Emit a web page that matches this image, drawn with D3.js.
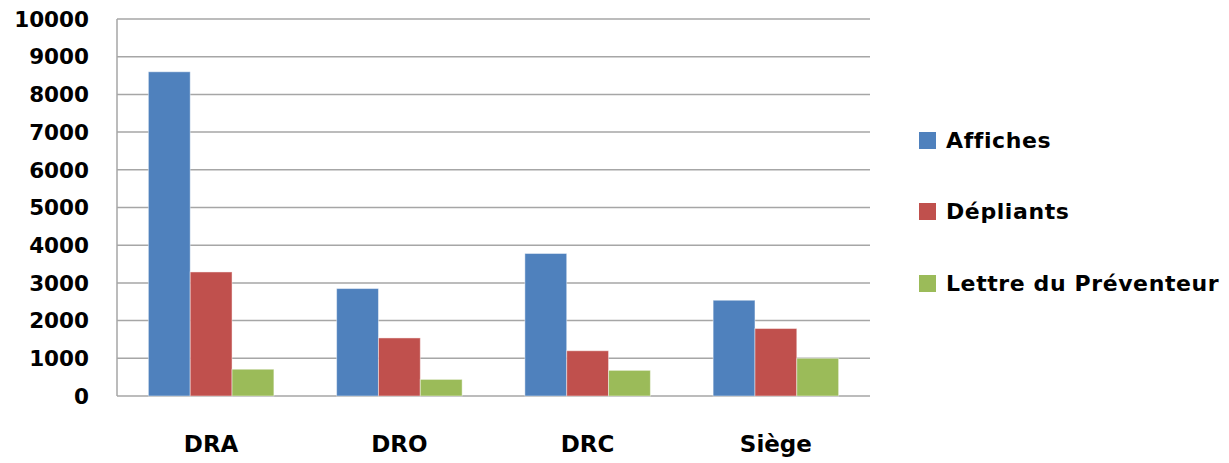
<!DOCTYPE html>
<html>
<head>
<meta charset="utf-8">
<script src="https://cdn.jsdelivr.net/npm/d3@7"></script>
<style>
  body { margin: 0; background: #fff; }
  text { font-family: "DejaVu Sans", Verdana, sans-serif; font-weight: bold; fill: #000; }
</style>
</head>
<body>
<svg width="1229" height="463"></svg>
<script>
  // data
  const categories = ["DRA", "DRO", "DRC", "Siège"];
  const seriesNames = ["Affiches", "Dépliants", "Lettre du Préventeur"];
  const affiches = [8600, 2850, 3780, 2540];
  const depliants = [3290, 1540, 1200, 1790];
  const lettre = [710, 440, 680, 1000];
  const yTicks = [0, 1000, 2000, 3000, 4000, 5000, 6000, 7000, 8000, 9000, 10000];
  const colors = ["#4F81BD", "#C0504D", "#9BBB59"];

  const series = [affiches, depliants, lettre];

  const svg = d3.select("svg"),
    plotLeft = 117, plotRight = 870, plotTop = 19, plotBottom = 396;

  const x = d3.scaleBand().domain(categories).range([plotLeft, plotRight]).paddingInner(0).paddingOuter(0);
  const y = d3.scaleLinear().domain([0, 10000]).range([plotBottom, plotTop]);

  // group inside each band: 3 bars, 150% gap width
  const barW = x.bandwidth() / (3 + 1.5);
  const x1 = d3.scaleBand().domain(d3.range(3)).range([0, barW * 3]);

  // gridlines
  svg.append("g").selectAll("line")
    .data(yTicks)
    .enter().append("line")
    .attr("x1", plotLeft).attr("x2", plotRight)
    .attr("y1", d => y(d)).attr("y2", d => y(d))
    .attr("stroke", "#a6a6a6").attr("stroke-width", 1.5);

  // left axis line
  svg.append("line")
    .attr("x1", plotLeft).attr("x2", plotLeft)
    .attr("y1", plotTop).attr("y2", plotBottom)
    .attr("stroke", "#a6a6a6").attr("stroke-width", 1.5);

  // bars
  const groups = svg.append("g").selectAll("g")
    .data(categories)
    .enter().append("g")
    .attr("transform", d => "translate(" + (x(d) + barW * 0.75) + ",0)");

  groups.selectAll("rect")
    .data((c, ci) => series.map((s, si) => ({si: si, v: s[ci]})))
    .enter().append("rect")
    .attr("x", d => x1(d.si))
    .attr("width", x1.bandwidth())
    .attr("y", d => y(d.v))
    .attr("height", d => plotBottom - y(d.v))
    .attr("fill", d => colors[d.si])
    .attr("stroke", "rgba(255,255,255,0.45)")
    .attr("stroke-width", 1);

  // y tick labels
  svg.append("g").selectAll("text")
    .data(yTicks)
    .enter().append("text")
    .attr("x", 89)
    .attr("y", d => y(d))
    .attr("dy", "0.36em")
    .attr("text-anchor", "end")
    .style("font-size", "21.5px")
    .text(d => d);

  // category labels
  svg.append("g").selectAll("text")
    .data(categories)
    .enter().append("text")
    .attr("x", d => x(d) + x.bandwidth() / 2)
    .attr("y", 452)
    .attr("text-anchor", "middle")
    .style("font-size", "23px")
    .text(d => d);

  // legend
  const legendY = [140, 211, 283];
  const legend = svg.append("g").selectAll("g")
    .data(seriesNames)
    .enter().append("g")
    .attr("transform", (d, i) => "translate(919," + legendY[i] + ")");

  legend.append("rect")
    .attr("x", 0).attr("y", -8)
    .attr("width", 17).attr("height", 17)
    .attr("fill", (d, i) => colors[i]);

  legend.append("text")
    .attr("x", 27)
    .attr("y", 0)
    .attr("dy", "0.36em")
    .style("font-size", "22px")
    .style("letter-spacing", "0.6px")
    .text(d => d);
</script>
</body>
</html>
